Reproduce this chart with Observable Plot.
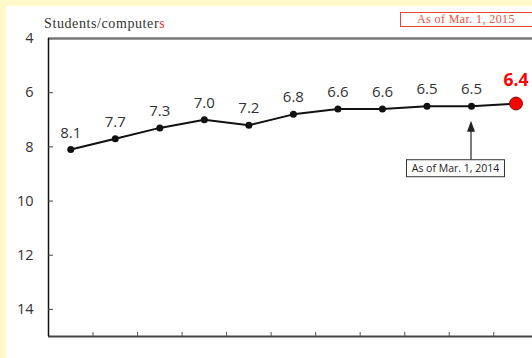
<!DOCTYPE html>
<html>
<head>
<meta charset="utf-8">
<script src="https://cdn.jsdelivr.net/npm/d3@7"></script>
<script src="https://cdn.jsdelivr.net/npm/@observablehq/plot@0.6"></script>
<style>
  html, body { margin: 0; padding: 0; }
  body { background: #fff9cc; width: 532px; height: 358px; overflow: hidden; position: relative; }
  #panel { position: absolute; left: 6px; top: 6px; width: 526px; height: 352px; background: #fff; overflow: hidden; }
  #title { position: absolute; left: 38px; top: 11px; font: 14px/14px "Liberation Serif", serif; color: #333; letter-spacing: 0.6px; white-space: nowrap; }
  #title span { color: #e8321e; }
  #asof { position: absolute; left: 394px; top: 6px; width: 150px; height: 15px; box-sizing: border-box; border: 1.5px solid #e8452c;
          font: 12px/12px "Liberation Serif", serif; color: #e8503a; padding: 0 0 0 16px; letter-spacing: 0.4px; white-space: nowrap; }
  #chart { position: absolute; left: 0; top: 0; }
  #chart svg { overflow: visible; }
</style>
</head>
<body>
<div id="panel">
  <div id="chart"></div>
  <div id="title">Students/computer<span>s</span></div>
  <div id="asof">As of Mar. 1, 2015</div>
</div>
<script>
// Survey years (each as of March 1) and students per educational computer
const years = [2005, 2006, 2007, 2008, 2009, 2010, 2011, 2012, 2013, 2014, 2015];
const studentsPerComputer = [8.1, 7.7, 7.3, 7.0, 7.2, 6.8, 6.6, 6.6, 6.5, 6.5, 6.4];
const yTickValues = [4, 6, 8, 10, 12, 14];
const calloutYear = 2014;
const calloutText = "As of Mar. 1, 2014";

const data = years.map((year, i) => ({i, year, value: studentsPerComputer[i]}));
const latest = data[data.length - 1];
const earlier = data.slice(0, -1);
// boundaries between consecutive survey years, used for the bottom tick marks
const boundaries = years.slice(1).map((_, i) => i + 0.5);

const font = "'Open Sans', sans-serif";

const chart = Plot.plot({
  width: 526,
  height: 352,
  marginLeft: 42,
  marginRight: 0,
  marginTop: 32,
  marginBottom: 22,
  style: {background: "transparent", fontFamily: font, overflow: "visible"},
  x: {domain: [-0.5, 10.37], axis: null},
  y: {domain: [4, 15], reverse: true, axis: null},
  marks: [
    // frame: grey top rule, dark bottom axis, black left axis
    Plot.ruleY([4], {stroke: "#777", strokeWidth: 2.5}),
    Plot.ruleY([15], {stroke: "#444", strokeWidth: 2}),
    Plot.ruleX([-0.5], {stroke: "#111", strokeWidth: 1.5, y1: 4, y2: 15}),
    // y axis: inward ticks and labels
    Plot.axisY(yTickValues.slice(1), {tickSize: -5, fill: "none", stroke: "#444", label: null}),
    Plot.axisY(yTickValues, {tickSize: 0, tickPadding: 15, label: null, fontSize: 14.5, fill: "#333", fontFamily: font}),
    // x axis: inward ticks between years
    Plot.axisX(boundaries, {tickSize: -4, fill: "none", stroke: "#555", label: null}),
    // the series
    Plot.line(data, {x: "i", y: "value", stroke: "#111", strokeWidth: 2}),
    Plot.dot(earlier, {x: "i", y: "value", r: 3.5, fill: "#111", stroke: null}),
    Plot.dot([latest], {x: "i", y: "value", r: 6.5, fill: "#ff0000", stroke: "#600", strokeWidth: 0.8}),
    Plot.text(earlier, {x: "i", y: "value", text: d => d.value.toFixed(1), lineAnchor: "bottom", dy: -12, fontSize: 15, fill: "#333", fontFamily: font}),
    Plot.text([latest], {x: "i", y: "value", text: d => d.value.toFixed(1), lineAnchor: "bottom", dy: -18, fontSize: 17.5, fontWeight: "bold", fill: "#ff0000", fontFamily: font})
  ]
});

document.getElementById("chart").append(chart);

// callout below the 2014 point
const xs = chart.scale("x"), ys = chart.scale("y");
const c = data.find(d => d.year === calloutYear);
const px = xs.apply(c.i), py = ys.apply(c.value);
const svg = d3.select(chart);
const g = svg.append("g");
g.append("line")
  .attr("x1", px).attr("x2", px)
  .attr("y1", py + 54).attr("y2", py + 24)
  .attr("stroke", "#222").attr("stroke-width", 1.2);
g.append("path")
  .attr("d", `M${px},${py + 15}L${px - 4},${py + 26}L${px + 4},${py + 26}Z`)
  .attr("fill", "#222");
g.append("rect")
  .attr("x", px - 64.5).attr("y", py + 54)
  .attr("width", 98).attr("height", 17)
  .attr("fill", "#fff").attr("stroke", "#333").attr("stroke-width", 1);
g.append("text")
  .attr("x", px - 15.5).attr("y", py + 66.5)
  .attr("text-anchor", "middle")
  .attr("font-family", font).attr("font-size", 10.5).attr("fill", "#222")
  .text(calloutText);
</script>
</body>
</html>
